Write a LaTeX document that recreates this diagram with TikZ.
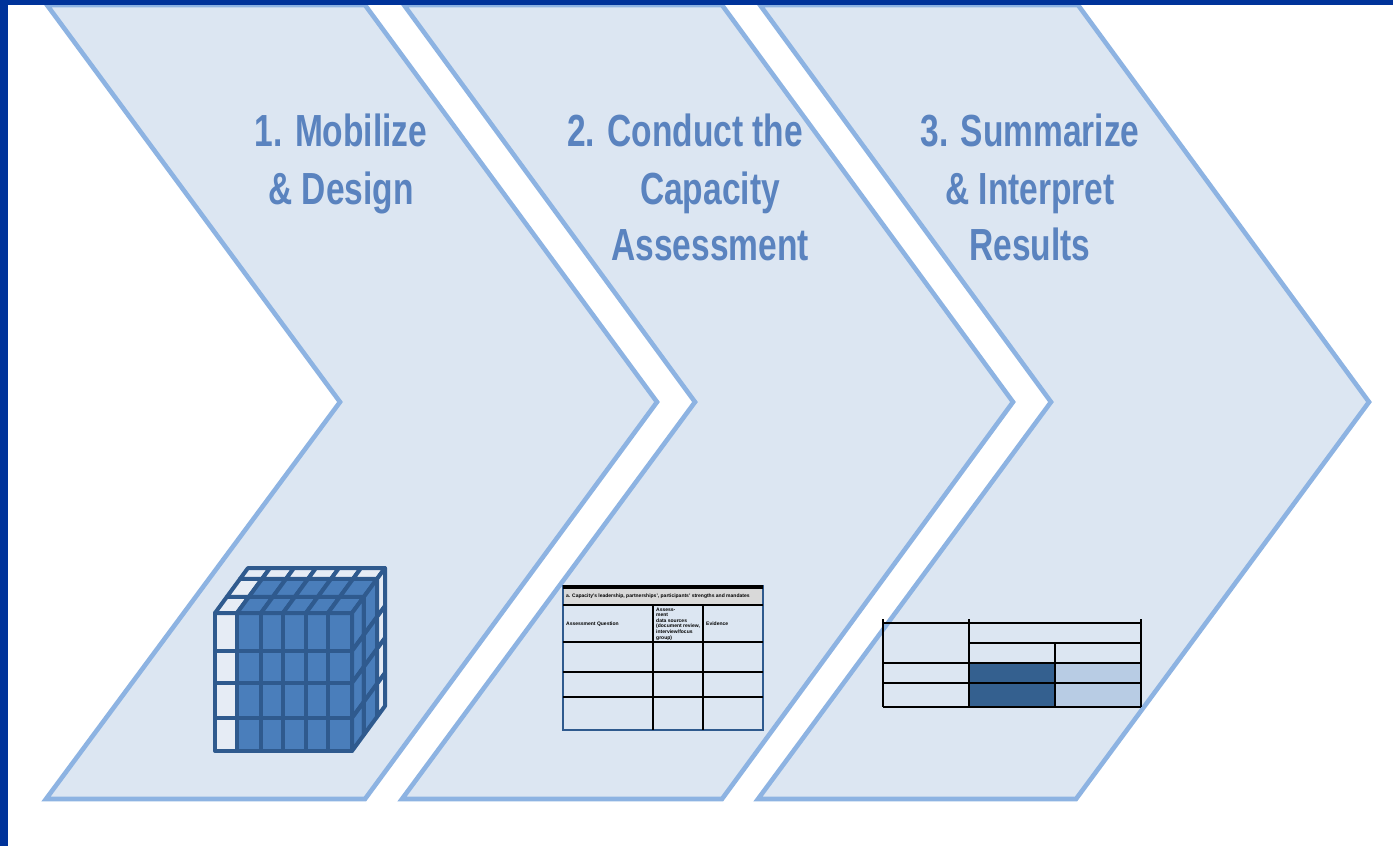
\documentclass[tikz,border=0pt]{standalone}
\usepackage{fontspec}
\setmainfont{Liberation Sans}
\newfontfamily\headfont[FakeStretch=0.745]{Liberation Sans Bold}
\definecolor{navy}{HTML}{00339A}
\definecolor{chevfill}{HTML}{DCE6F2}
\definecolor{chevline}{HTML}{8DB3E2}
\definecolor{headtext}{HTML}{5A83BF}
\definecolor{cubeblue}{HTML}{4A7EBB}
\definecolor{cubeline}{HTML}{2F5A8E}
\definecolor{cubewhite}{HTML}{E6ECF5}
\definecolor{darkcell}{HTML}{34608F}
\definecolor{lightcell}{HTML}{B8CCE4}
\definecolor{greycell}{HTML}{D9D9D9}
\tikzset{
  chevron/.style={fill=chevfill,draw=chevline,line width=4.6pt,line join=miter},
  headline/.style={anchor=base,text=headtext,inner sep=0pt,font=\headfont\fontsize{45}{50}\selectfont},
  cubecell/.style={draw=cubeline,line width=4pt,line join=round},
  tabline/.style={draw=black,line width=2.6pt},
  tinytext/.style={anchor=west,inner sep=0pt,text=black,font=\bfseries\fontsize{5}{5.6}\selectfont,align=left}
}
\begin{document}
\begin{tikzpicture}[x=1pt,y=-1pt]
\useasboundingbox (0,0) rectangle (1393,846);
\fill[white] (0,0) rectangle (1393,846);
% chevrons
\draw[chevron] (47,5) -- (365,5) -- (657,402) -- (365,799) -- (46,799) -- (340,402) -- cycle;
\draw[chevron] (404,5) -- (722,5) -- (1013,402) -- (722,799) -- (402,799) -- (695,402) -- cycle;
\draw[chevron] (760,5) -- (1078,5) -- (1369,402) -- (1076,799) -- (758,799) -- (1051,402) -- cycle;
% frame
\fill[navy] (0,0) rectangle (1393,5);
\fill[navy] (0,0) rectangle (8,846);
% headings
\node[headline] (h1a) at (341,146) {1. Mobilize};
\node[headline] (h1b) at (341,204) {\& Design};
\node[headline] (h2a) at (685,146) {2. Conduct the};
\node[headline] (h2b) at (710,204) {Capacity};
\node[headline] (h2c) at (710,260) {Assessment};
\node[headline] (h3a) at (1030,146) {3. Summarize};
\node[headline] (h3b) at (1030,204) {\& Interpret};
\node[headline] (h3c) at (1030,260) {Results};
% cube: front face
\def\fx{{215,237,261,283,306,328,352}}
\def\fy{{613,651,683,718,751}}
\def\ft{{0,0.36,0.76,1}}
\foreach \i in {0,...,5}{
  \foreach \j in {0,...,3}{
    \pgfmathsetmacro\xa{\fx[\i]}\pgfmathsetmacro\xb{\fx[\i+1]}
    \pgfmathsetmacro\ya{\fy[\j]}\pgfmathsetmacro\yb{\fy[\j+1]}
    \ifnum\i=0 \def\cc{cubewhite}\else\def\cc{cubeblue}\fi
    \draw[cubecell,fill=\cc] (\xa,\ya) rectangle (\xb,\yb);
  }
}
% cube: top face
\foreach \i in {0,...,5}{
  \foreach \d in {0,1,2}{
    \pgfmathsetmacro\xa{\fx[\i]}\pgfmathsetmacro\xb{\fx[\i+1]}
    \pgfmathsetmacro\ta{\ft[\d]}\pgfmathsetmacro\tb{\ft[\d+1]}
    \pgfmathtruncatemacro\white{(\i==0)||(\d==2)}
    \ifnum\white=1 \def\cc{cubewhite}\else\def\cc{cubeblue}\fi
    \draw[cubecell,fill=\cc]
      ({\xa+33*\ta},{613-45*\ta}) -- ({\xb+33*\ta},{613-45*\ta}) --
      ({\xb+33*\tb},{613-45*\tb}) -- ({\xa+33*\tb},{613-45*\tb}) -- cycle;
  }
}
% cube: right face
\foreach \j in {0,...,3}{
  \foreach \d in {0,1,2}{
    \pgfmathsetmacro\ya{\fy[\j]}\pgfmathsetmacro\yb{\fy[\j+1]}
    \pgfmathsetmacro\ta{\ft[\d]}\pgfmathsetmacro\tb{\ft[\d+1]}
    \ifnum\d=2 \def\cc{cubewhite}\else\def\cc{cubeblue}\fi
    \draw[cubecell,fill=\cc]
      ({352+33*\ta},{\ya-45*\ta}) -- ({352+33*\tb},{\ya-45*\tb}) --
      ({352+33*\tb},{\yb-45*\tb}) -- ({352+33*\ta},{\yb-45*\ta}) -- cycle;
  }
}
% table 2
\fill[greycell] (563,588) rectangle (763,605);
\draw[cubeline,line width=2.4pt] (563,586) rectangle (763,730);
\draw[black,line width=3.4pt] (563,587) -- (763,587);
\foreach \y in {605,642,672,697}{\draw[tabline] (563,\y) -- (763,\y);}
\foreach \x in {653,703}{\draw[tabline] (\x,605) -- (\x,730);}
\node[tinytext] (t1) at (566,596) {a. Capacity's leadership, partnerships', participants' strengths and mandates};
\node[tinytext] (t2) at (566,624) {Assessment Question};
\node[tinytext] (t3) at (656,624) {Assess-\\ment\\ data sources\\ (document review,\\ interview/focus\\ group)};
\node[tinytext] (t4) at (706,624) {Evidence};
% table 3
\fill[darkcell] (969,663) rectangle (1055,707);
\fill[lightcell] (1055,663) rectangle (1141,707);
\foreach \x in {883,969,1141}{\draw[tabline] (\x,619) -- (\x,707);}
\draw[tabline] (1055,643) -- (1055,707);
\draw[tabline] (883,623) -- (1141,623);
\draw[tabline] (969,643) -- (1141,643);
\foreach \y in {663,683,707}{\draw[tabline] (883,\y) -- (1141,\y);}
\end{tikzpicture}
\end{document}
